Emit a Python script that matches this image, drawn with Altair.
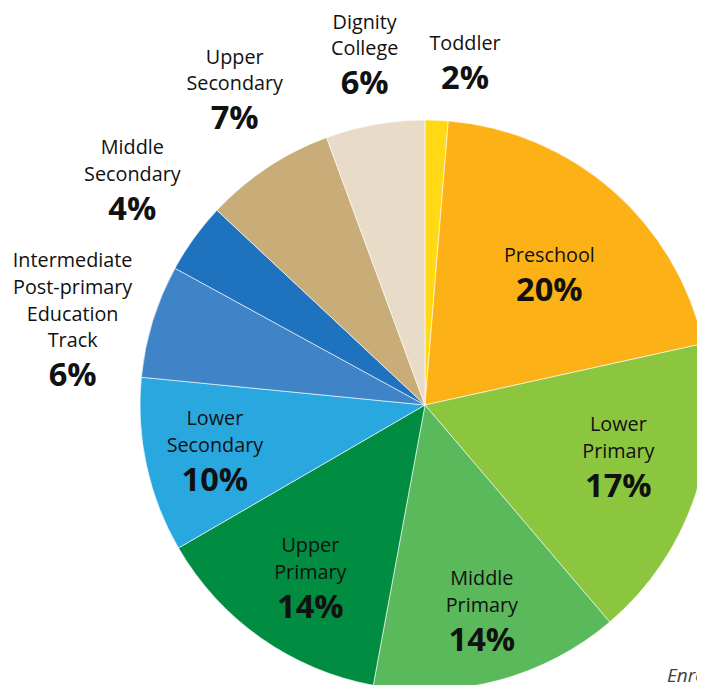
import altair as alt
import pandas as pd
import math

categories = ["Toddler", "Preschool", "Lower Primary", "Middle Primary", "Upper Primary",
              "Lower Secondary", "Intermediate Post-primary Education Track",
              "Middle Secondary", "Upper Secondary", "Dignity College"]
label_names = ["Toddler", "Preschool", "Lower\nPrimary", "Middle\nPrimary", "Upper\nPrimary",
               "Lower\nSecondary", "Intermediate\nPost-primary\nEducation\nTrack",
               "Middle\nSecondary", "Upper\nSecondary", "Dignity\nCollege"]
shares = [1.3, 20.2, 17.2, 14.1, 13.7, 9.9, 6.4, 4.0, 7.4, 5.6]
pct_labels = ["2%", "20%", "17%", "14%", "14%", "10%", "6%", "4%", "7%", "6%"]
colors = ["#FFD916", "#FCB216", "#8CC63F", "#5AB95A", "#008C41",
          "#29A8E0", "#3F84C6", "#1F72BE", "#C9AD78", "#E8DBC8"]
source_text = "Enrolment by level"

df = pd.DataFrame({
    "cat": categories,
    "name": label_names,
    "share": shares,
    "pct": pct_labels,
    "idx": list(range(len(categories))),
})
total = float(sum(shares))

CX, CY = 417, 397
R = 285
FONT = "Open Sans"
NAME_SIZE = 19.8
PCT_SIZE = 32.6
LH = 26.7

color = alt.Color("cat:N", scale=alt.Scale(domain=categories, range=colors), legend=None)
theta_scale = alt.Scale(domain=[0, total], range=[0, 2 * math.pi])

base = alt.Chart(df).transform_window(
    cum="sum(share)", sort=[alt.SortField("idx")]
).transform_calculate(
    s0="datum.cum - datum.share",
    mid="datum.cum - datum.share / 2",
)

pie = base.mark_arc(outerRadius=R, stroke="white", strokeWidth=0.6).encode(
    theta=alt.Theta("s0:Q", scale=theta_scale, stack=None),
    theta2="cum:Q",
    color=color,
    x=alt.value(CX), y=alt.value(CY),
)

def label_layers(cat, radius, dx=0, dy=0):
    i = categories.index(cat)
    nlines = label_names[i].count("\n") + 1
    sel = base.transform_filter(alt.datum.cat == cat)
    enc = dict(theta=alt.Theta("mid:Q", scale=theta_scale, stack=None),
               x=alt.value(CX), y=alt.value(CY))
    name = sel.mark_text(
        radius=radius, font=FONT, fontSize=NAME_SIZE, color="#111111",
        baseline="alphabetic", align="center", lineBreak="\n", lineHeight=LH,
        dx=dx, dy=dy - 12 - (nlines - 1) * LH,
    ).encode(text="name:N", **enc)
    pct = sel.mark_text(
        radius=radius, font=FONT, fontSize=PCT_SIZE, fontWeight="bold", color="#111111",
        baseline="top", align="center", dx=dx, dy=dy + 1,
    ).encode(text="pct:N", **enc)
    return [name, pct]

layers = [pie]
layers += label_layers("Preschool", 183, dx=4, dy=7)
layers += label_layers("Lower Primary", 204)
layers += label_layers("Middle Primary", 220, dy=6)
layers += label_layers("Upper Primary", 213, dx=8, dy=12)
layers += label_layers("Lower Secondary", 215, dy=13)
layers += label_layers("Toddler", 343, dx=26)
layers += label_layers("Dignity College", 344, dy=1)
layers += label_layers("Upper Secondary", 357, dx=7, dy=-5)
layers += label_layers("Middle Secondary", 360, dx=-1, dy=-1)
layers += label_layers("Intermediate Post-primary Education Track", 352, dx=-16, dy=58)

src = alt.Chart(pd.DataFrame({"t": [source_text]})).mark_text(
    font=FONT, fontSize=19, fontStyle="italic", color="#404040",
    align="left", baseline="middle",
).encode(text="t:N", x=alt.value(659), y=alt.value(668))
layers.append(src)

chart = alt.layer(*layers).properties(
    width=689, height=677, padding=0,
    autosize=alt.AutoSizeParams(type="none"),
).configure_view(strokeWidth=0)

chart.save("out.html", embed_options={"renderer": "svg", "actions": False})
